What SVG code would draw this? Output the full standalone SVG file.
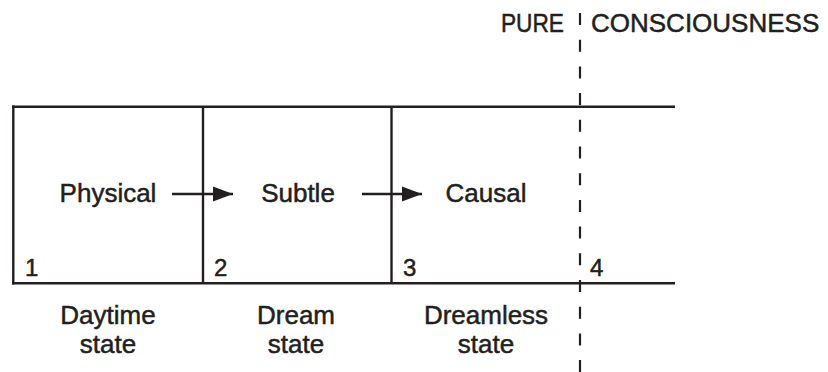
<svg xmlns="http://www.w3.org/2000/svg" width="828" height="372" viewBox="0 0 828 372">
  <style>
    .ln { stroke: #231f20; stroke-width: 2.4; fill: none; }
    .dash { stroke: #231f20; stroke-width: 2.2; fill: none; stroke-dasharray: 12 14.7; }
    .t { font-family: "Liberation Sans", Arial, sans-serif; font-size: 26px; fill: #231f20; stroke: #231f20; stroke-width: 0.5; }
    .c { text-anchor: middle; }
    .n { font-family: "Liberation Sans", Arial, sans-serif; font-size: 24px; fill: #231f20; stroke: #231f20; stroke-width: 0.5; }
  </style>
  <defs>
    <marker id="arrow" markerUnits="userSpaceOnUse" markerWidth="20" markerHeight="16" refX="20" refY="8" orient="auto">
      <path d="M0,0.5 L20,8 L0,15.5 Z" fill="#231f20"/>
    </marker>
  </defs>

  <rect width="828" height="372" fill="#ffffff"/>

  <!-- frame: outer edges and column dividers -->
  <g id="frame">
    <line class="ln" x1="12" y1="106.7" x2="675" y2="106.7"/>
    <line class="ln" x1="12" y1="283.3" x2="675" y2="283.3"/>
    <line class="ln" x1="13.3" y1="105.5" x2="13.3" y2="284.5"/>
    <line class="ln" x1="203" y1="106.7" x2="203" y2="283.3"/>
    <line class="ln" x1="391.5" y1="106.7" x2="391.5" y2="283.3"/>
  </g>

  <!-- boundary of pure consciousness -->
  <g id="boundary">
    <line class="dash" x1="580" y1="13" x2="580" y2="372"/>
    <text class="t" x="501" y="32" textLength="63" lengthAdjust="spacingAndGlyphs">PURE</text>
    <text class="t" x="591" y="32">CONSCIOUSNESS</text>
  </g>

  <g id="physical">
    <text class="t c" x="108" y="202">Physical</text>
    <text class="n" x="25" y="276">1</text>
    <text class="t c" x="108" y="324">Daytime</text>
    <text class="t c" x="108" y="353">state</text>
  </g>

  <g id="subtle">
    <text class="t c" x="298" y="202">Subtle</text>
    <text class="n" x="214" y="276">2</text>
    <text class="t c" x="296" y="324">Dream</text>
    <text class="t c" x="296" y="353">state</text>
  </g>

  <g id="causal">
    <text class="t c" x="486" y="202">Causal</text>
    <text class="n" x="403" y="276">3</text>
    <text class="t c" x="486" y="324">Dreamless</text>
    <text class="t c" x="486" y="353">state</text>
  </g>

  <g id="turiya">
    <text class="n" x="590" y="276">4</text>
  </g>

  <g id="connectors">
    <line class="ln" x1="172" y1="194" x2="233" y2="194" marker-end="url(#arrow)"/>
    <line class="ln" x1="362" y1="194" x2="422" y2="194" marker-end="url(#arrow)"/>
  </g>
</svg>
